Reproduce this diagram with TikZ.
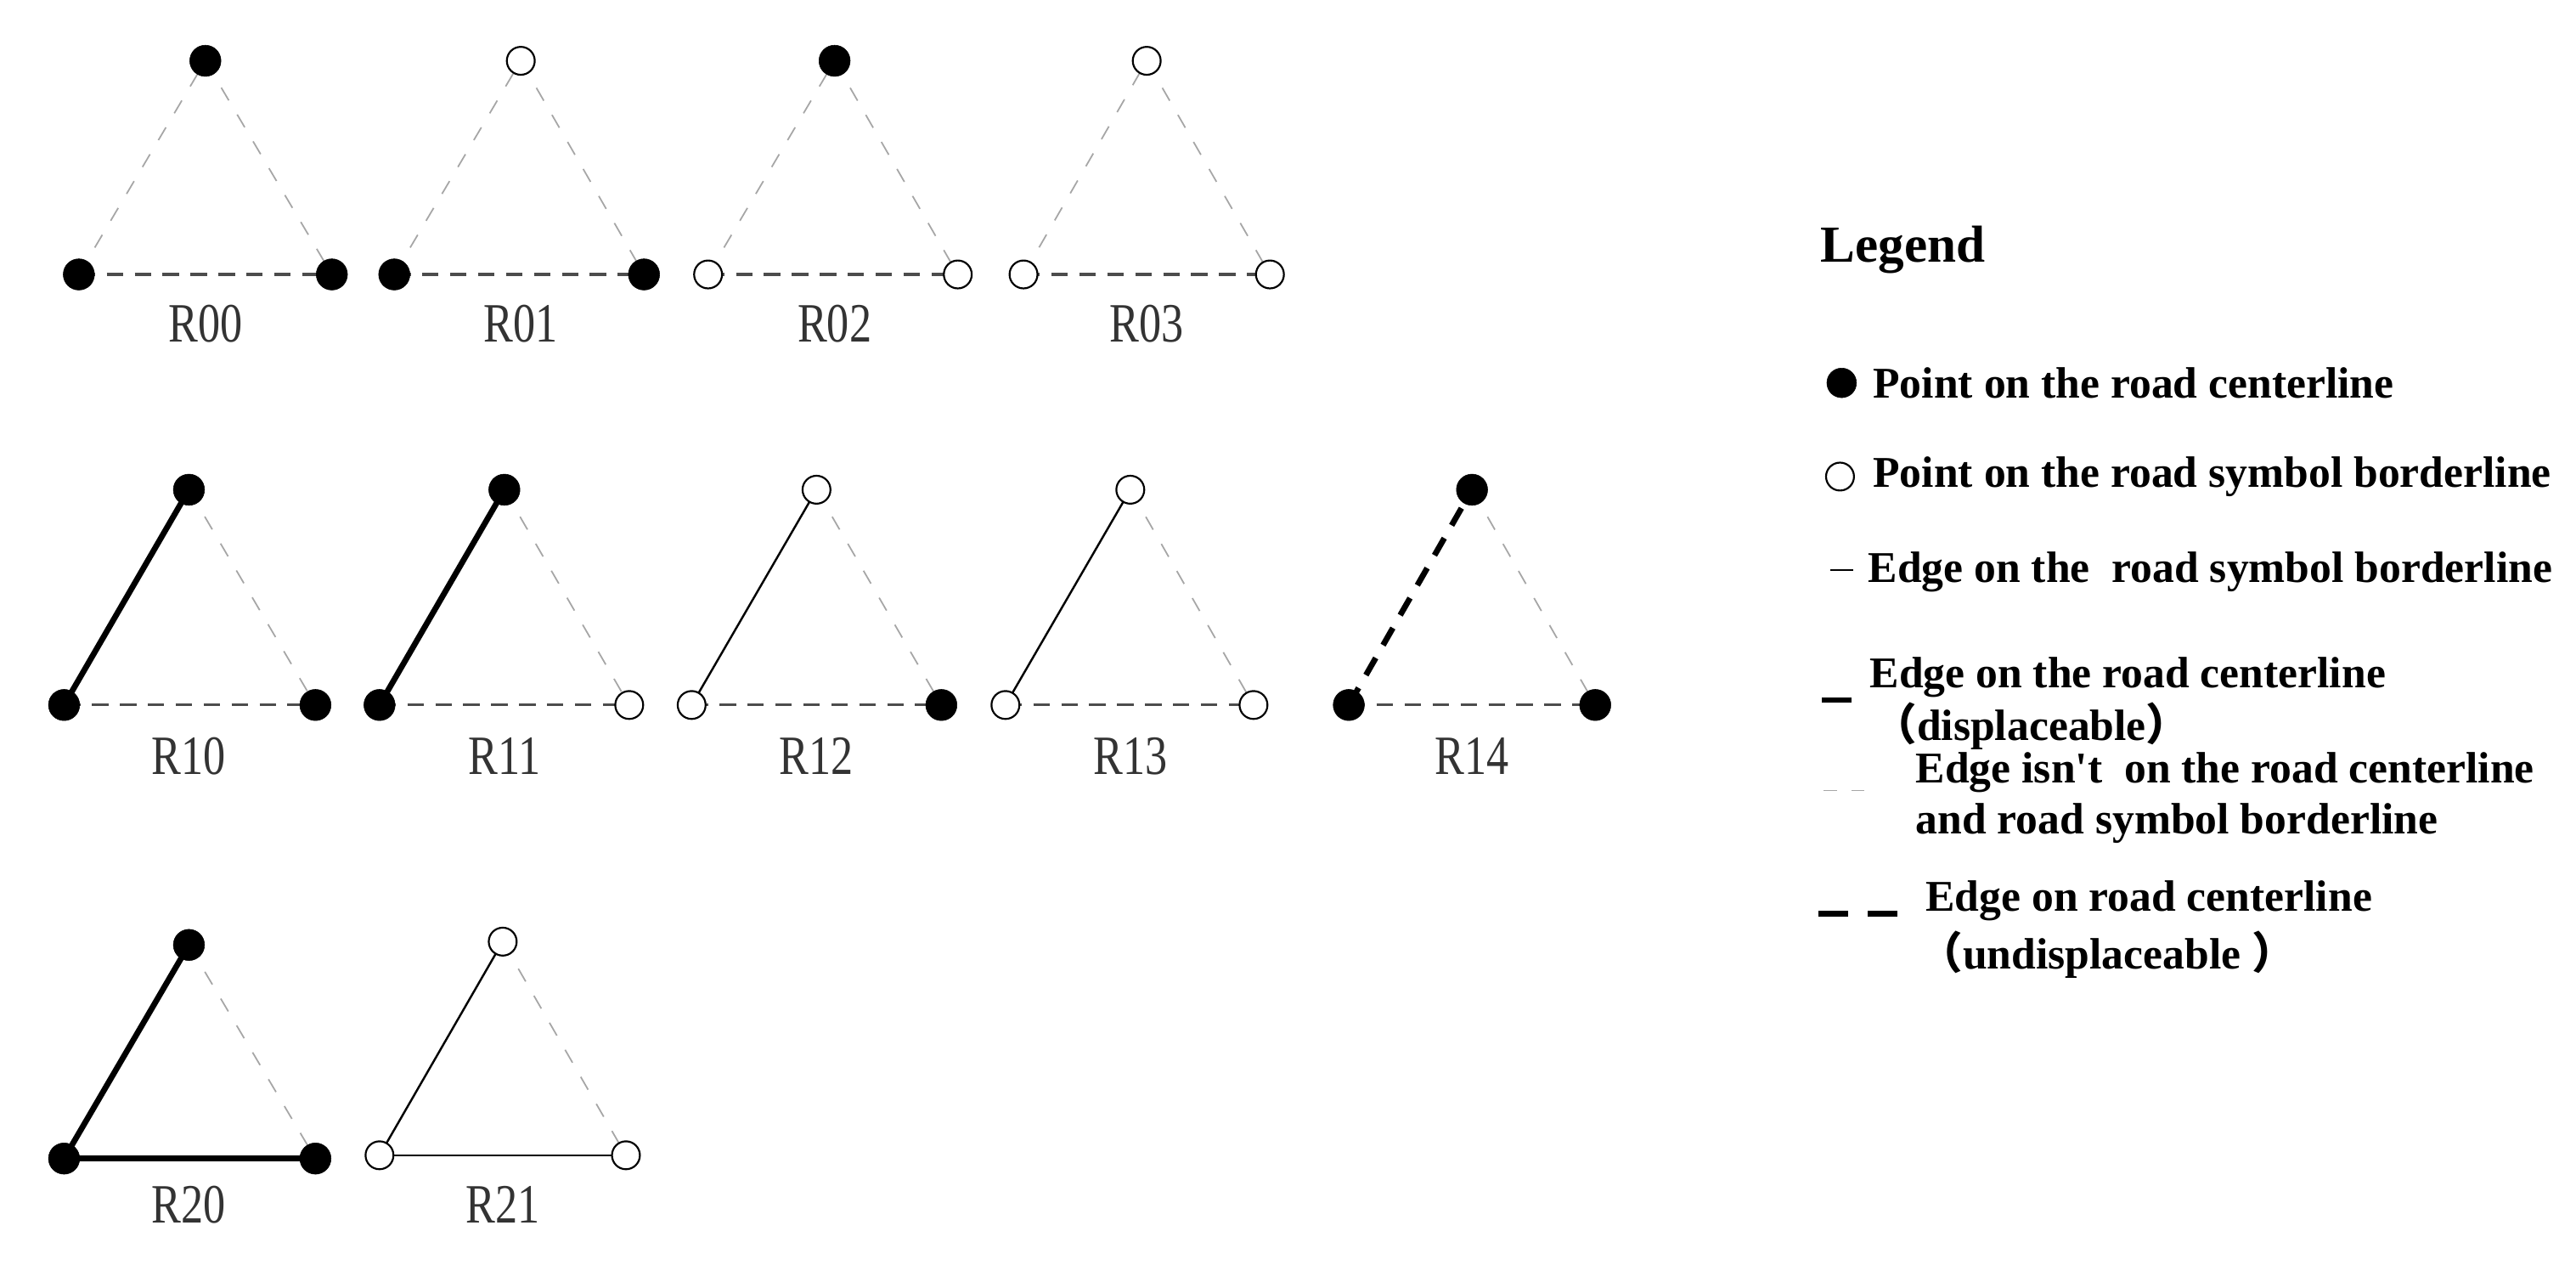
\documentclass[tikz,border=0pt]{standalone}
\usepackage{fontspec}
\setmainfont{Liberation Serif}
\newfontfamily\cjk{Noto Sans CJK SC}
\begin{document}
\begin{tikzpicture}[x=0.05cm,y=-0.05cm,
  fp/.style={circle,fill=black,draw=black,inner sep=0pt,minimum size=0.95cm},
  op/.style={circle,fill=white,draw=black,line width=1.6pt,inner sep=0pt,minimum size=0.85cm},
  lite/.style={gray!70,line width=1.3pt,dash pattern=on 0.45cm off 0.5cm},
  base/.style={black!70,line width=2.4pt,dash pattern=on 0.5cm off 0.35cm},
  thk/.style={black,line width=5pt},
  thn/.style={black,line width=1.8pt},
  thkd/.style={black,line width=5pt,dash pattern=on 0.6cm off 0.45cm},
  lab/.style={font=\fontsize{48}{52}\selectfont,text=black!80,xscale=0.8},
  leg/.style={font=\bfseries\fontsize{38}{44}\selectfont,anchor=west,align=left,inner sep=0pt}]
\fill[white] (0,0) rectangle (1568,769.3);
\useasboundingbox (0,0) rectangle (1568,769.3);
\foreach \n/\tx/\ty/\lx/\ly/\rx/\ry/\ts/\ls/\rs/\le/\be/\lby in {
 R00/125/37/48/167/202/167/fp/fp/fp/lite/base/197,
 R01/317/37/240/167/392/167/op/fp/fp/lite/base/197,
 R02/508/37/431/167/583/167/fp/op/op/lite/base/197,
 R03/698/37/623/167/773/167/op/op/op/lite/base/197,
 R10/115/298/39/429/192/429/fp/fp/fp/thk/base/460,
 R11/307/298/231/429/383/429/fp/fp/op/thk/base/460,
 R12/497/298/421/429/573/429/op/op/fp/thn/base/460,
 R13/688/298/612/429/763/429/op/op/op/thn/base/460,
 R14/896/298/821/429/971/429/fp/fp/fp/thkd/base/460,
 R20/115/575/39/705/192/705/fp/fp/fp/thk/thk/733,
 R21/306/573/231/703/381/703/op/op/op/thn/thn/733}{
  \coordinate (\n t) at (\tx,\ty);
  \coordinate (\n l) at (\lx,\ly);
  \coordinate (\n r) at (\rx,\ry);
  \draw[lite] (\n t) -- (\n r);
  \draw[\be] (\n l) -- (\n r);
  \draw[\le] (\n l) -- (\n t);
  \node[\ts] (\n T) at (\n t) {};
  \node[\ls] (\n L) at (\n l) {};
  \node[\rs] (\n R) at (\n r) {};
  \node[lab] (\n lab) at (\tx,\lby) {\n};
}
% legend
\node[leg,font=\bfseries\fontsize{45}{50}\selectfont] (legt) at (1108,152) {Legend};
\node[fp,minimum size=0.9cm] (s1) at (1121,233) {};
\node[leg] (t1) at (1140,233) {Point on the road centerline};
\node[op,minimum size=0.85cm] (s2) at (1120,290) {};
\node[leg] (t2) at (1140,290) {Point on the road symbol borderline};
\coordinate (s3a) at (1114,347); \coordinate (s3b) at (1128,347);
\draw[thn] (s3a) -- (s3b);
\node[leg] (t3) at (1137,348) {Edge on the\ \ road symbol borderline};
\coordinate (s4a) at (1109,426); \coordinate (s4b) at (1127,426);
\draw[thk] (s4a) -- (s4b);
\node[leg] (t4a) at (1138,412) {Edge on the road centerline};
\node[leg] (t4b) at (1140,442) {{\cjk （}displaceable{\cjk ）}};
\coordinate (s5a) at (1110,481); \coordinate (s5b) at (1143,481);
\draw[gray!70,line width=1.3pt,dash pattern=on 0.4cm off 0.45cm] (s5a) -- (s5b);
\node[leg] (t5a) at (1166,470) {Edge isn\textquotesingle t\ \ on the road centerline};
\node[leg] (t5b) at (1166,501) {and road symbol borderline};
\coordinate (s6a) at (1107,556); \coordinate (s6b) at (1163,556);
\draw[thk,dash pattern=on 0.9cm off 0.6cm] (s6a) -- (s6b);
\node[leg] (t6a) at (1172,548) {Edge on road centerline};
\node[leg] (t6b) at (1168,581) {{\cjk （}undisplaceable\ {\cjk ）}};
\end{tikzpicture}
\end{document}
